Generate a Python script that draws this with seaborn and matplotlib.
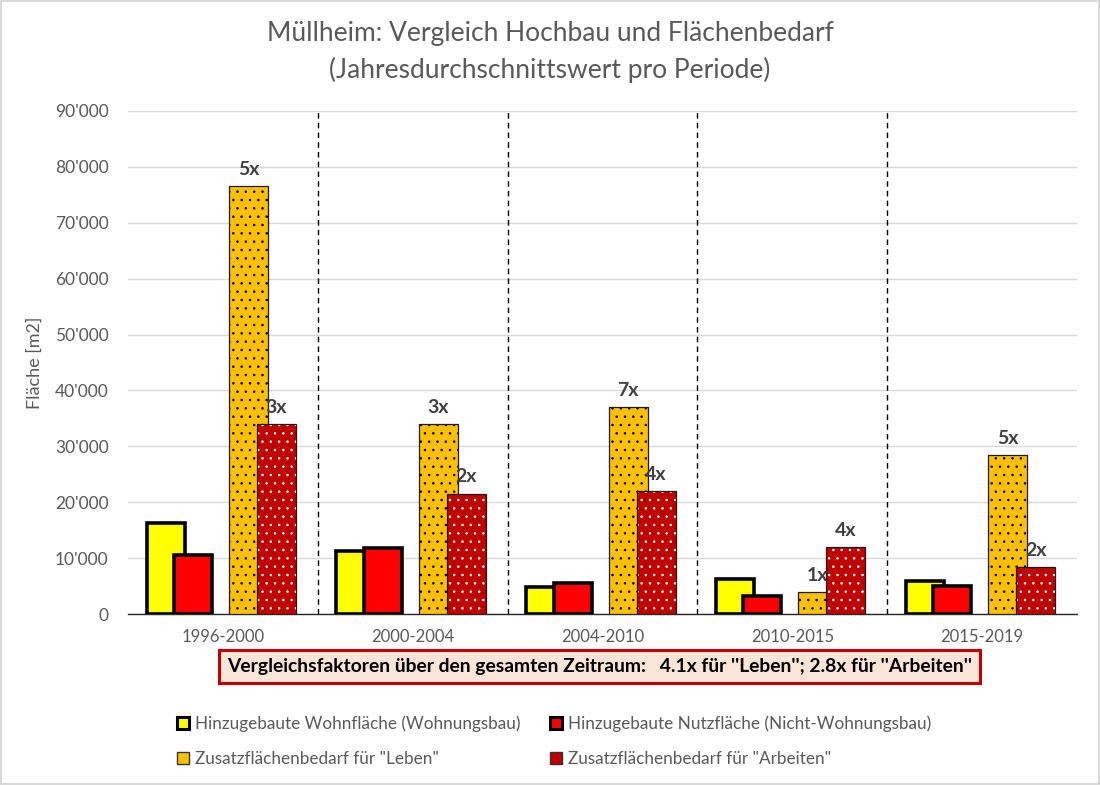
import matplotlib
matplotlib.use("Agg")
import matplotlib.pyplot as plt
import seaborn as sns
import pandas as pd
from matplotlib.patches import Patch
from matplotlib.ticker import FuncFormatter

periods = ["1996-2000", "2000-2004", "2004-2010", "2010-2015", "2015-2019"]
wohnflaeche = [16200, 11200, 4900, 6300, 5900]
nutzflaeche = [10500, 11900, 5600, 3300, 5000]
leben = [76500, 34000, 37000, 3900, 28400]
arbeiten = [34000, 21500, 22000, 12000, 8400]
faktor_leben = ["5x", "3x", "7x", "1x", "5x"]
faktor_arbeiten = ["3x", "2x", "4x", "4x", "2x"]

series_names = [
    "Hinzugebaute Wohnfläche (Wohnungsbau)",
    "Hinzugebaute Nutzfläche (Nicht-Wohnungsbau)",
    "Zusatzflächenbedarf für \"Leben\"",
    "Zusatzflächenbedarf für \"Arbeiten\"",
]
colors = ["#FFFF00", "#FF0000", "#FFC000", "#C00000"]

rows = []
for name, vals in zip(series_names, [wohnflaeche, nutzflaeche, leben, arbeiten]):
    for p, v in zip(periods, vals):
        rows.append({"Periode": p, "Serie": name, "Wert": v})
df = pd.DataFrame(rows)

sns.set_theme(style="white")
plt.rcParams["font.family"] = ["Lato", "DejaVu Sans"]
plt.rcParams["hatch.linewidth"] = 0.6
grey = "#595959"

fig = plt.figure(figsize=(11, 7.85), dpi=100)
ax = fig.add_axes([0.1164, 0.2178, 0.8627, 0.6408])

sns.barplot(data=df, x="Periode", y="Wert", hue="Serie", hue_order=series_names,
            palette=colors, ax=ax, legend=False, errorbar=None, saturation=1)

# Excel-like layout: overlapping bar pairs
offsets = [-0.302, -0.158, 0.135, 0.282]
widths = [0.200, 0.200, 0.205, 0.205]
for k, cont in enumerate(ax.containers):
    for i, bar in enumerate(cont.patches):
        bar.set_x(i + offsets[k] - widths[k] / 2)
        bar.set_width(widths[k])
        bar.set_zorder(3 + k)
        if k < 2:
            bar.set_edgecolor("black")
            bar.set_linewidth(2.6)
        else:
            bar.set_linewidth(0)
            bar.set_edgecolor("black" if k == 2 else "white")
            bar.set_hatch("..")
            # outline on top
            frame = plt.Rectangle((bar.get_x(), 0), bar.get_width(), bar.get_height(),
                                  fill=False, edgecolor="#1a1a1a", linewidth=0.9,
                                  zorder=3 + k + 0.5)
            ax.add_patch(frame)

# factor labels
for k, labels in [(2, faktor_leben), (3, faktor_arbeiten)]:
    for i, bar in enumerate(ax.containers[k].patches):
        ax.text(bar.get_x() + bar.get_width() / 2, bar.get_height() + 1500, labels[i],
                ha="center", va="bottom", fontsize=14, fontweight="bold",
                color="#404040", zorder=10)

# period separators
for xpos in [0.5, 1.5, 2.5, 3.5]:
    ax.axvline(xpos, color="black", linestyle=(0, (4, 3)), linewidth=1.0, zorder=2)

ax.set_xlim(-0.5, 4.5)
ax.set_ylim(0, 90000)
ax.set_yticks(range(0, 90001, 10000))
ax.yaxis.set_major_formatter(FuncFormatter(lambda v, p: f"{int(v):,}".replace(",", "'")))
ax.grid(axis="y", color="#D9D9D9", linewidth=1.0, zorder=0)
ax.set_axisbelow(True)
for s in ["top", "right", "left"]:
    ax.spines[s].set_visible(False)
ax.spines["bottom"].set_color("#262626")
ax.spines["bottom"].set_linewidth(1.0)
ax.tick_params(axis="x", length=0, labelsize=12, labelcolor=grey, pad=11)
ax.tick_params(axis="y", length=0, labelsize=12.5, labelcolor=grey, pad=14)
ax.set_xlabel("")
ax.set_ylabel("Fläche [m2]", fontsize=13, color=grey, labelpad=9)

fig.text(0.5, 0.957, "Müllheim: Vergleich Hochbau und Flächenbedarf",
         ha="center", va="center", fontsize=19, color=grey)
fig.text(0.5, 0.911, "(Jahresdurchschnittswert pro Periode)",
         ha="center", va="center", fontsize=19, color=grey)

fig.text(0.545, 0.151,
         "Vergleichsfaktoren über den gesamten Zeitraum:   4.1x für ''Leben''; 2.8x für ''Arbeiten''",
         ha="center", va="center", fontsize=13.9, fontweight="bold", color="black",
         bbox=dict(boxstyle="square,pad=0.42", facecolor="#FBE5D6", edgecolor="#C00000",
                   linewidth=2.2))

handles = [
    Patch(facecolor=colors[0], edgecolor="black", linewidth=2.2),
    Patch(facecolor=colors[2], edgecolor="#333333", linewidth=1.0),
    Patch(facecolor=colors[1], edgecolor="black", linewidth=2.2),
    Patch(facecolor=colors[3], edgecolor="#333333", linewidth=1.0),
]
labels = [series_names[0], series_names[2], series_names[1], series_names[3]]
leg = fig.legend(handles, labels, loc="upper left", bbox_to_anchor=(0.155, 0.097),
                 ncol=2, frameon=False, fontsize=12.3, labelcolor=grey,
                 handlelength=0.7, handleheight=0.7, handletextpad=0.35,
                 columnspacing=1.7, labelspacing=1.12, borderaxespad=0)

fig.patch.set_edgecolor("#D9D9D9")
fig.patch.set_linewidth(1.5)

fig.savefig("out.png", dpi=100, edgecolor=fig.get_edgecolor())
